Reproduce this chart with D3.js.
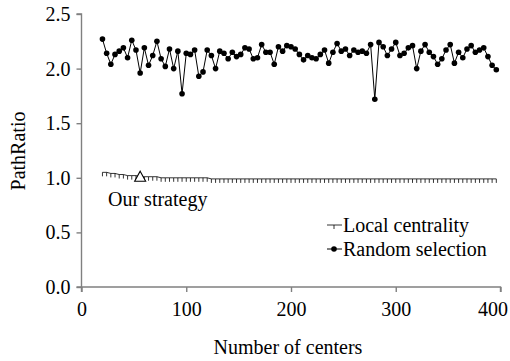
<!DOCTYPE html>
<html>
<head>
<meta charset="utf-8">
<script src="https://cdn.jsdelivr.net/npm/d3@7/dist/d3.min.js"></script>
<style>
  html, body { margin: 0; padding: 0; background: #fff; }
  svg { display: block; }
  text { font-family: "Liberation Serif", "Times New Roman", serif; fill: #000; }
</style>
</head>
<body>
<svg id="chart" width="510" height="361"></svg>
<script>
// Number of centers sampled
const centers = d3.range(20, 400, 4);

// PathRatio for random center selection
const randomSelection = [
  2.27, 2.14, 2.04, 2.13, 2.16, 2.19, 2.10, 2.26, 2.17, 1.96,
  2.19, 2.03, 2.12, 2.25, 2.09, 2.02, 2.18, 2.00, 2.16, 1.77,
  2.14, 2.13, 2.17, 1.93, 1.97, 2.17, 2.12, 2.00, 2.16, 2.14,
  2.09, 2.15, 2.11, 2.13, 2.19, 2.18, 2.09, 2.10, 2.22, 2.15,
  2.15, 2.04, 2.20, 2.16, 2.21, 2.20, 2.18, 2.13, 2.08, 2.12,
  2.10, 2.09, 2.13, 2.17, 2.05, 2.15, 2.23, 2.16, 2.18, 2.12,
  2.17, 2.15, 2.16, 2.14, 2.22, 1.72, 2.24, 2.20, 2.12, 2.18,
  2.24, 2.12, 2.14, 2.19, 2.21, 2.00, 2.16, 2.22, 2.15, 2.11,
  2.04, 2.09, 2.17, 2.22, 2.05, 2.15, 2.10, 2.18, 2.21, 2.15,
  2.17, 2.19, 2.11, 2.03, 1.99
];

// PathRatio for local-centrality based selection
const localCentrality = [
  1.05, 1.05, 1.04, 1.04, 1.03, 1.03, 1.02, 1.02, 1.02, 1.01,
  1.01, 1.01, 1.01, 1.01, 1.00, 1.00, 1.00, 1.00, 1.00, 1.00,
  1.00, 1.00, 1.00, 1.00, 1.00, 1.00, 0.99, 0.99, 0.99, 0.99,
  0.99, 0.99, 0.99, 0.99, 0.99, 0.99, 0.99, 0.99, 0.99, 0.99,
  0.99, 0.99, 0.99, 0.99, 0.99, 0.99, 0.99, 0.99, 0.99, 0.99,
  0.99, 0.99, 0.99, 0.99, 0.99, 0.99, 0.99, 0.99, 0.99, 0.99,
  0.99, 0.99, 0.99, 0.99, 0.99, 0.99, 0.99, 0.99, 0.99, 0.99,
  0.99, 0.99, 0.99, 0.99, 0.99, 0.99, 0.99, 0.99, 0.99, 0.99,
  0.99, 0.99, 0.99, 0.99, 0.99, 0.99, 0.99, 0.99, 0.99, 0.99,
  0.99, 0.99, 0.99, 0.99, 0.99
];

const xTicks = [0, 100, 200, 300, 400];
const yTicks = [0, 0.5, 1.0, 1.5, 2.0, 2.5];

// Highlighted point ("Our strategy")
const highlight = { x: 56, y: 1.01, label: "Our strategy" };

const seriesNames = ["Local centrality", "Random selection"];

const svg = d3.select("#chart");
const plotLeft = 81.5, plotRight = 500.5, plotTop = 14, plotBottom = 287;
const fontSize = "20px";

const x = d3.scaleLinear().domain([0, 400]).range([plotLeft, plotRight]);
const y = d3.scaleLinear().domain([0, 2.5]).range([plotBottom, plotTop]);

const axisColor = "#808080";

// Y axis
const yAxis = svg.append("g")
  .attr("transform", `translate(${plotLeft},0)`)
  .call(d3.axisLeft(y).tickValues(yTicks).tickFormat(d3.format(".1f")).tickSize(5).tickPadding(6));
// X axis
const xAxis = svg.append("g")
  .attr("transform", `translate(0,${plotBottom})`)
  .call(d3.axisBottom(x).tickValues(xTicks).tickFormat(d3.format("d")).tickSize(5).tickPadding(10));

[yAxis, xAxis].forEach(g => {
  g.select(".domain").attr("stroke", axisColor).attr("stroke-width", 1.4);
  g.selectAll(".tick line").attr("stroke", axisColor).attr("stroke-width", 1.4);
  g.selectAll(".tick text")
    .style("font-family", '"Liberation Serif", serif')
    .style("font-size", fontSize)
    .attr("fill", "#000");
});
yAxis.select(".domain").attr("d", `M-5,${y(2.5)}H0V${y(0)}H-5`);
xAxis.select(".domain").attr("d", `M${x(0)},5V0H${x(400)}V5`);
// keep the last x label inside the drawing area
xAxis.selectAll(".tick text").filter(d => d === 400)
  .attr("text-anchor", "end").attr("x", 7);

// Axis titles
svg.append("text")
  .attr("x", 288).attr("y", 354)
  .attr("text-anchor", "middle").style("font-size", fontSize)
  .text("Number of centers");
svg.append("text")
  .attr("transform", `translate(25,151) rotate(-90)`)
  .attr("text-anchor", "middle").style("font-size", fontSize)
  .text("PathRatio");

// Random selection: line with filled circles
const randomData = centers.map((c, i) => ({ x: c, y: randomSelection[i] }));
svg.append("path")
  .datum(randomData)
  .attr("fill", "none").attr("stroke", "#000").attr("stroke-width", 1)
  .attr("d", d3.line().x(d => x(d.x)).y(d => y(d.y)));
svg.append("g").selectAll("circle")
  .data(randomData).join("circle")
  .attr("cx", d => x(d.x)).attr("cy", d => y(d.y)).attr("r", 2.8)
  .attr("fill", "#000");

// Local centrality: line with short downward tick markers
const localData = centers.map((c, i) => ({ x: c, y: localCentrality[i] }));
svg.append("path")
  .datum(localData)
  .attr("fill", "none").attr("stroke", "#000").attr("stroke-width", 0.8)
  .attr("d", d3.line().x(d => x(d.x)).y(d => y(d.y)));
svg.append("g").selectAll("line")
  .data(localData).join("line")
  .attr("x1", d => x(d.x)).attr("x2", d => x(d.x))
  .attr("y1", d => y(d.y)).attr("y2", d => y(d.y) + 4)
  .attr("stroke", "#000").attr("stroke-width", 0.8);

// Highlighted point: open triangle and label
const hx = x(highlight.x), hy = y(highlight.y);
svg.append("path")
  .attr("d", `M${hx},${hy - 5.5}L${hx + 5.5},${hy + 4.5}L${hx - 5.5},${hy + 4.5}Z`)
  .attr("fill", "#fff").attr("stroke", "#000").attr("stroke-width", 1.1);
svg.append("text")
  .attr("x", 108).attr("y", 206).style("font-size", fontSize)
  .text(highlight.label);

// Legend
const legend = svg.append("g");
const legendY = [225, 249];
seriesNames.forEach((name, i) => {
  const ly = legendY[i];
  legend.append("line")
    .attr("x1", 327).attr("x2", 342).attr("y1", ly).attr("y2", ly)
    .attr("stroke", "#000").attr("stroke-width", i === 0 ? 0.8 : 1);
  if (i === 0) {
    legend.append("line")
      .attr("x1", 334).attr("x2", 334).attr("y1", ly).attr("y2", ly + 4)
      .attr("stroke", "#000").attr("stroke-width", 0.8);
  } else {
    legend.append("circle").attr("cx", 334).attr("cy", ly).attr("r", 2.8).attr("fill", "#000");
  }
  legend.append("text")
    .attr("x", 343).attr("y", ly + 6.5).style("font-size", fontSize)
    .text(name);
});
</script>
</body>
</html>
